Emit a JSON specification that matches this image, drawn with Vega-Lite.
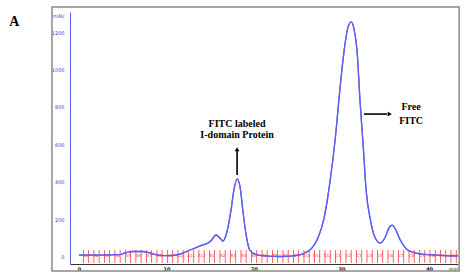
{
  "$schema": "https://vega.github.io/schema/vega-lite/v6.json",
  "width": 388,
  "height": 252,
  "autosize": {"type": "none"},
  "padding": {"left": 70, "top": 12, "right": 10, "bottom": 15},
  "background": "white",
  "config": {"view": {"stroke": null}},
  "datasets": {
    "curve": [
      {"t": 0.0, "v": 8}, {"t": 2.4, "v": 8}, {"t": 4.7, "v": 10}, {"t": 5.26, "v": 19}, {"t": 6.17, "v": 27},
      {"t": 7.3, "v": 27}, {"t": 8.1, "v": 19}, {"t": 9.0, "v": 8}, {"t": 10.4, "v": 5}, {"t": 11.5, "v": 13},
      {"t": 12.7, "v": 35}, {"t": 13.8, "v": 56}, {"t": 15.0, "v": 80}, {"t": 15.66, "v": 115}, {"t": 16.1, "v": 99},
      {"t": 16.46, "v": 83}, {"t": 16.9, "v": 131}, {"t": 17.37, "v": 249}, {"t": 17.7, "v": 356}, {"t": 18.06, "v": 415},
      {"t": 18.4, "v": 372}, {"t": 18.74, "v": 238}, {"t": 19.1, "v": 115}, {"t": 19.5, "v": 35}, {"t": 20.1, "v": 13},
      {"t": 21.26, "v": 3}, {"t": 22.97, "v": 0}, {"t": 24.7, "v": 5}, {"t": 25.8, "v": 19}, {"t": 26.6, "v": 45},
      {"t": 27.3, "v": 99}, {"t": 28.0, "v": 206}, {"t": 28.7, "v": 409}, {"t": 29.26, "v": 623}, {"t": 29.8, "v": 891},
      {"t": 30.3, "v": 1105}, {"t": 30.7, "v": 1222}, {"t": 31.1, "v": 1255}, {"t": 31.4, "v": 1222}, {"t": 31.8, "v": 1078},
      {"t": 32.1, "v": 837}, {"t": 32.5, "v": 570}, {"t": 32.8, "v": 356}, {"t": 33.3, "v": 195}, {"t": 33.8, "v": 104},
      {"t": 34.4, "v": 72}, {"t": 35.0, "v": 104}, {"t": 35.4, "v": 152}, {"t": 35.77, "v": 168}, {"t": 36.2, "v": 142},
      {"t": 36.7, "v": 88}, {"t": 37.3, "v": 45}, {"t": 38.1, "v": 24}, {"t": 39.5, "v": 11}, {"t": 41.8, "v": 5},
      {"t": 43.3, "v": 3}
    ],
    "fractions": [
      {"t": 0.5}, {"t": 1.1}, {"t": 1.7}, {"t": 2.3}, {"t": 2.9}, {"t": 3.5}, {"t": 4.1}, {"t": 4.7}, {"t": 5.3}, {"t": 5.9},
      {"t": 6.5}, {"t": 7.1}, {"t": 7.7}, {"t": 8.3}, {"t": 8.9}, {"t": 9.5}, {"t": 10.1}, {"t": 10.7}, {"t": 11.3}, {"t": 11.9},
      {"t": 12.5}, {"t": 13.1}, {"t": 13.7}, {"t": 14.3}, {"t": 14.9}, {"t": 15.5}, {"t": 16.1}, {"t": 16.7}, {"t": 17.3}, {"t": 17.9},
      {"t": 18.5}, {"t": 19.1}, {"t": 19.7}, {"t": 20.3}, {"t": 20.9}, {"t": 21.5}, {"t": 22.1}, {"t": 22.7}, {"t": 23.3}, {"t": 23.9},
      {"t": 24.5}, {"t": 25.1}, {"t": 25.7}, {"t": 26.3}, {"t": 26.9}, {"t": 27.5}, {"t": 28.1}, {"t": 28.7}, {"t": 29.3}, {"t": 29.9},
      {"t": 30.5}, {"t": 31.1}, {"t": 31.7}, {"t": 32.3}, {"t": 32.9}, {"t": 33.5}, {"t": 34.1}, {"t": 34.7}, {"t": 35.3}, {"t": 35.9},
      {"t": 36.5}, {"t": 37.1}, {"t": 37.7}, {"t": 38.3}, {"t": 38.9}, {"t": 39.5}, {"t": 40.1}, {"t": 40.7}, {"t": 41.3}, {"t": 41.9},
      {"t": 42.5}, {"t": 43.1}
    ],
    "fraclabels": [
      {"t": 0.8, "lab": "A1"}, {"t": 2.0, "lab": "A2"}, {"t": 3.2, "lab": "A3"}, {"t": 4.4, "lab": "A4"}, {"t": 5.6, "lab": "A5"},
      {"t": 6.8, "lab": "A6"}, {"t": 8.0, "lab": "A7"}, {"t": 9.2, "lab": "A8"}, {"t": 10.4, "lab": "A9"}, {"t": 11.6, "lab": "A10"},
      {"t": 12.8, "lab": "A11"}, {"t": 14.0, "lab": "A12"}, {"t": 15.2, "lab": "B1"}, {"t": 16.4, "lab": "B2"}, {"t": 17.6, "lab": "B3"},
      {"t": 18.8, "lab": "B4"}, {"t": 20.0, "lab": "B5"}, {"t": 21.2, "lab": "B6"}, {"t": 22.4, "lab": "B7"}, {"t": 23.6, "lab": "B8"},
      {"t": 24.8, "lab": "B9"}, {"t": 26.0, "lab": "B10"}, {"t": 27.2, "lab": "B11"}, {"t": 28.4, "lab": "B12"}, {"t": 29.6, "lab": "C1"},
      {"t": 30.8, "lab": "C2"}, {"t": 32.0, "lab": "C3"}, {"t": 33.2, "lab": "C4"}, {"t": 34.4, "lab": "C5"}, {"t": 35.6, "lab": "C6"},
      {"t": 36.8, "lab": "C7"}, {"t": 38.0, "lab": "C8"}, {"t": 39.2, "lab": "C9"}, {"t": 40.4, "lab": "C10"}, {"t": 41.6, "lab": "C11"},
      {"t": 42.8, "lab": "C12"}
    ],
    "frame": [{"t": -3.09, "t2": 43.43, "v": 1335, "v2": -77}],
    "panel": [{"t": -7.4, "v": 1254, "label": "A"}],
    "texts": [
      {"t": 18.06, "v": 709, "label": "FITC labeled"},
      {"t": 18.06, "v": 650, "label": "I-domain Protein"},
      {"t": 37.94, "v": 800, "label": "Free"},
      {"t": 37.94, "v": 725, "label": "FITC"}
    ],
    "arrows": [
      {"t": 18.06, "v": 436, "t2": 18.06, "v2": 566},
      {"t": 32.57, "v": 762, "t2": 35.2, "v2": 762}
    ],
    "heads": [
      {"t": 18.06, "v": 574, "shape": "triangle-up"},
      {"t": 35.5, "v": 762, "shape": "triangle-right"}
    ]
  },
  "layer": [
    {"data": {"name": "curve"}, "mark": {"type": "line", "color": "#5f5fee", "strokeWidth": 1.3, "interpolate": "monotone"},
      "encoding": {
        "x": {"field": "t", "type": "quantitative",
          "scale": {"domain": [-1.03, 43.3], "nice": false, "zero": false},
          "axis": {"values": [0, 10, 20, 30, 40], "grid": false, "ticks": false, "domainColor": "#333", "domainWidth": 1,
            "labelFontSize": 5, "labelColor": "#222", "labelFontWeight": "bold", "labelPadding": 2, "labelFont": "DejaVu Sans",
            "title": "min", "titleX": 383, "titleY": 4.5, "titleBaseline": "middle", "titleAlign": "center", "titleFontSize": 5,
            "titleFontWeight": "normal", "titleColor": "#222", "titleFont": "DejaVu Sans"}},
        "y": {"field": "v", "type": "quantitative",
          "scale": {"domain": [-40, 1308], "nice": false, "zero": false},
          "axis": {"values": [0, 200, 400, 600, 800, 1000, 1200], "format": "d", "grid": false, "ticks": false, "domainColor": "#5a5aee", "domainWidth": 1,
            "labelFontSize": 5, "labelColor": "#3a3ae0", "labelPadding": 6, "labelFont": "DejaVu Sans",
            "title": "mAU", "titleAngle": 0, "titleX": -6, "titleY": 3, "titleAlign": "right", "titleBaseline": "middle",
            "titleFontSize": 5, "titleFontWeight": "normal", "titleColor": "#3a3ae0", "titleFont": "DejaVu Sans"}}
      }},
    {"data": {"name": "frame"}, "mark": {"type": "rect", "fill": "transparent", "stroke": "#8a8a8a", "strokeWidth": 1.5, "clip": false},
      "encoding": {
        "x": {"field": "t", "type": "quantitative"}, "x2": {"field": "t2"},
        "y": {"field": "v", "type": "quantitative"}, "y2": {"field": "v2"}}},
    {"data": {"name": "fractions"}, "mark": {"type": "tick", "orient": "vertical", "color": "#ff3b3b", "thickness": 0.8, "size": 13, "opacity": 1},
      "encoding": {
        "x": {"field": "t", "type": "quantitative"},
        "y": {"datum": 0, "type": "quantitative"}}},
    {"data": {"name": "fraclabels"}, "mark": {"type": "text", "color": "#ff3b3b", "fontSize": 4, "font": "DejaVu Sans", "baseline": "middle"},
      "encoding": {
        "x": {"field": "t", "type": "quantitative"},
        "y": {"datum": 2, "type": "quantitative"},
        "text": {"field": "lab"}}},
    {"data": {"name": "curve"}, "mark": {"type": "line", "color": "#5f5fee", "strokeWidth": 1.3, "interpolate": "monotone"},
      "encoding": {
        "x": {"field": "t", "type": "quantitative"},
        "y": {"field": "v", "type": "quantitative"}}},
    {"data": {"name": "arrows"}, "mark": {"type": "rule", "color": "#000", "strokeWidth": 1.6},
      "encoding": {
        "x": {"field": "t", "type": "quantitative"}, "x2": {"field": "t2"},
        "y": {"field": "v", "type": "quantitative"}, "y2": {"field": "v2"}}},
    {"data": {"name": "heads"}, "mark": {"type": "point", "filled": true, "color": "#000", "size": 22, "opacity": 1},
      "encoding": {
        "x": {"field": "t", "type": "quantitative"},
        "y": {"field": "v", "type": "quantitative"},
        "shape": {"field": "shape", "type": "nominal", "scale": null}}},
    {"data": {"name": "texts"}, "mark": {"type": "text", "font": "Liberation Serif", "fontWeight": "bold", "fontSize": 10, "color": "#000", "baseline": "middle"},
      "encoding": {
        "x": {"field": "t", "type": "quantitative"},
        "y": {"field": "v", "type": "quantitative"},
        "text": {"field": "label"}}},
    {"data": {"name": "panel"}, "mark": {"type": "text", "font": "Liberation Serif", "fontWeight": "bold", "fontSize": 14, "color": "#000", "baseline": "middle", "clip": false},
      "encoding": {
        "x": {"field": "t", "type": "quantitative"},
        "y": {"field": "v", "type": "quantitative"},
        "text": {"field": "label"}}}
  ]
}
